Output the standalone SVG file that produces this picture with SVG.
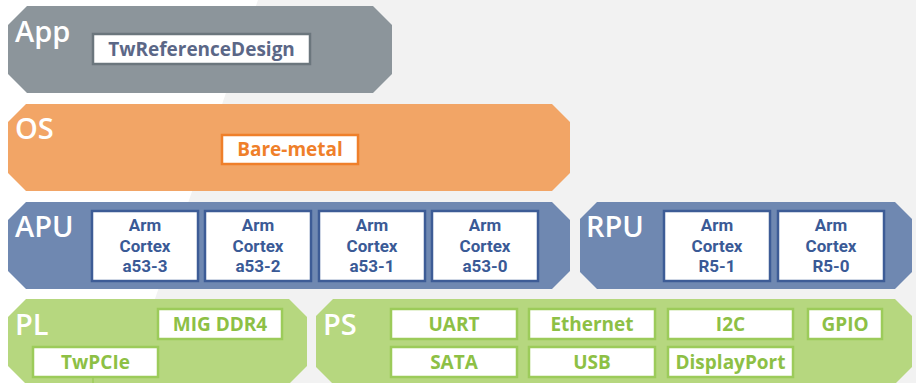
<svg xmlns="http://www.w3.org/2000/svg" width="916" height="383" viewBox="0 0 916 383">
<style>
.lbl{font-family:"Open Sans","Noto Sans",sans-serif;font-weight:600;font-size:29px;fill:#ffffff}
.t{font-family:"Open Sans","Noto Sans",sans-serif;font-weight:700;font-size:19px;text-anchor:middle}
.c{font-family:Roboto,"Open Sans",sans-serif;font-weight:700;font-size:17px}
.box{fill:#ffffff;stroke-width:2.5}
.g .box{stroke:#6b767d}.g .t{fill:#5b6787}
.o .box{stroke:#ef7f2a}.o .t{fill:#ef7f2a}
.b .box{stroke:#3d5c96}.b .t{fill:#3a5a96}
.gr .box{stroke:#9ccb5a}.gr .t{fill:#8dc045}
</style>
<polygon points="0,0 258,0 126,383 0,383" fill="#ffffff"/>
<polygon points="258,0 916,0 916,383 126,383" fill="#f2f2f2"/>

<g id="app" class="g">
<path d="M27,6 H373 L392,25 V74 L373,93 H27 L8,74 V25 Z" fill="#8c959b"/>
<text class="lbl" x="15" y="42">App</text>
</g>
<g id="twreferencedesign" class="g">
<rect class="box" x="93" y="34" width="217" height="30"/>
<text class="t" x="201.5" y="56">TwReferenceDesign</text>
</g>

<g id="os" class="o">
<path d="M26,104 H552 L570,122 V173 L552,191 H26 L8,173 V122 Z" fill="#f2a566"/>
<text class="lbl" x="15" y="139">OS</text>
</g>
<g id="bare-metal" class="o">
<rect class="box" x="222" y="135" width="136" height="29"/>
<text class="t" x="290" y="156">Bare-metal</text>
</g>

<g id="apu" class="b">
<path d="M26,202 H552 L570,220 V271 L552,289 H26 L8,271 V220 Z" fill="#6f88b1"/>
<text class="lbl" x="15" y="237">APU</text>
</g>
<g id="a53-3" class="b">
<rect class="box" x="92" y="211" width="106" height="70"/>
<text class="t c" x="145" y="231">Arm</text><text class="t c" x="145" y="251.5">Cortex</text><text class="t c" x="145" y="272">a53-3</text>
</g>
<g id="a53-2" class="b">
<rect class="box" x="205" y="211" width="106" height="70"/>
<text class="t c" x="258" y="231">Arm</text><text class="t c" x="258" y="251.5">Cortex</text><text class="t c" x="258" y="272">a53-2</text>
</g>
<g id="a53-1" class="b">
<rect class="box" x="319" y="211" width="106" height="70"/>
<text class="t c" x="372" y="231">Arm</text><text class="t c" x="372" y="251.5">Cortex</text><text class="t c" x="372" y="272">a53-1</text>
</g>
<g id="a53-0" class="b">
<rect class="box" x="432" y="211" width="106" height="70"/>
<text class="t c" x="485" y="231">Arm</text><text class="t c" x="485" y="251.5">Cortex</text><text class="t c" x="485" y="272">a53-0</text>
</g>

<g id="rpu" class="b">
<path d="M597,202 H895 L912,219 V272 L895,289 H597 L580,272 V219 Z" fill="#6f88b1"/>
<text class="lbl" x="586" y="237">RPU</text>
</g>
<g id="r5-1" class="b">
<rect class="box" x="664" y="211" width="106" height="70"/>
<text class="t c" x="717" y="231">Arm</text><text class="t c" x="717" y="251.5">Cortex</text><text class="t c" x="717" y="272">R5-1</text>
</g>
<g id="r5-0" class="b">
<rect class="box" x="778" y="211" width="106" height="70"/>
<text class="t c" x="831" y="231">Arm</text><text class="t c" x="831" y="251.5">Cortex</text><text class="t c" x="831" y="272">R5-0</text>
</g>

<g id="pl" class="gr">
<path d="M26,299 H289 L307,317 V366 L289,384 H26 L8,366 V317 Z" fill="#b6d77f"/>
<text class="lbl" x="15" y="335">PL</text>
</g>
<g id="mig-ddr4" class="gr">
<rect class="box" x="158" y="309" width="124" height="30"/>
<text class="t" x="220" y="331">MIG DDR4</text>
</g>
<g id="twpcie" class="gr">
<rect class="box" x="33" y="347" width="125" height="30"/>
<text class="t" x="95.5" y="369">TwPCIe</text>
</g>

<g id="ps" class="gr">
<path d="M333,299 H895 L912,316 V367 L895,384 H333 L316,367 V316 Z" fill="#b6d77f"/>
<text class="lbl" x="323" y="335">PS</text>
</g>
<g id="uart" class="gr"><rect class="box" x="391" y="309" width="126" height="30"/><text class="t" x="454" y="331">UART</text></g>
<g id="ethernet" class="gr"><rect class="box" x="529" y="309" width="126" height="30"/><text class="t" x="592" y="331">Ethernet</text></g>
<g id="i2c" class="gr"><rect class="box" x="668" y="309" width="125" height="30"/><text class="t" x="730.5" y="331">I2C</text></g>
<g id="gpio" class="gr"><rect class="box" x="808" y="309" width="74" height="30"/><text class="t" x="845" y="331">GPIO</text></g>
<g id="sata" class="gr"><rect class="box" x="391" y="347" width="126" height="30"/><text class="t" x="454" y="369">SATA</text></g>
<g id="usb" class="gr"><rect class="box" x="529" y="347" width="126" height="30"/><text class="t" x="592" y="369">USB</text></g>
<g id="displayport" class="gr"><rect class="box" x="668" y="347" width="125" height="30"/><text class="t" x="730.5" y="369">DisplayPort</text></g>

<g id="connectors">
<line x1="93" y1="378" x2="93" y2="383" stroke="#9ccb5a" stroke-width="1.5"/>
</g>
</svg>
